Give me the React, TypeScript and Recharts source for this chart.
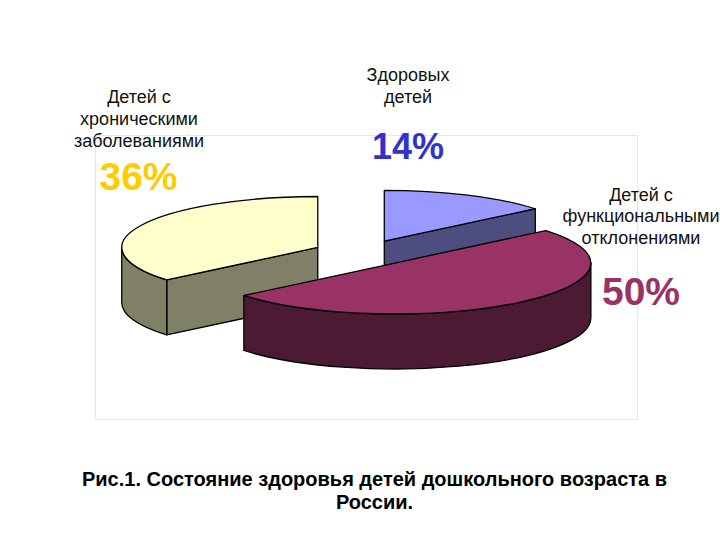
import { PieChart, Pie } from "recharts";

const categories = ["Детей с хроническими заболеваниями", "Здоровых детей", "Детей с функциональными отклонениями"];
const shares = [36, 14, 50];
const topColors = ["#FFFFCC", "#9999FF", "#993366"];
const sideColors = ["#808066", "#4D4D80", "#4D1A33"];
const percentColors = ["#FFCC00", "#3333CC", "#993366"];

const chartData = categories.map((name, i) => ({
  name,
  value: shares[i],
  fill: topColors[i],
  side: sideColors[i],
}));

const FONT = "'Liberation Sans', Arial, sans-serif";
const TILT = 0.26; // vertical squash of the disc
const DEPTH = 55; // wall height
const EXPLODE = 50; // how far slices are pulled from the center

const rad = (deg: number) => (deg * Math.PI) / 180;

// draws one exploded slice as a tilted disc wedge
const Slice3D = (props: any) => {
  const { cx, cy, outerRadius: r, startAngle, endAngle, midAngle, fill } = props;
  const side = props.side ?? props.payload?.side;
  const hi = Math.max(startAngle, endAngle);
  const lo = Math.min(startAngle, endAngle);
  const ry = r * TILT;
  const mid = midAngle ?? (hi + lo) / 2;
  const ox = cx + EXPLODE * Math.cos(rad(mid));
  const oy = cy - EXPLODE * TILT * Math.sin(rad(mid));
  const pt = (a: number, dy = 0) => [ox + r * Math.cos(rad(a)), oy - ry * Math.sin(rad(a)) + dy];
  const arc = (a: number, b: number, dy = 0) => {
    const [x, y] = pt(b, dy);
    const large = Math.abs(a - b) > 180 ? 1 : 0;
    return `A ${r} ${ry} 0 ${large} ${b < a ? 1 : 0} ${x} ${y}`;
  };

  const [hx, hy] = pt(hi);
  const [lx, ly] = pt(lo);
  const faces: string[] = [];

  // cut faces, only those turned towards the viewer
  [
    { x: hx, y: hy, normal: hi + 90 },
    { x: lx, y: ly, normal: lo - 90 },
  ].forEach((f) => {
    if (Math.sin(rad(f.normal)) < -0.01) {
      faces.push(
        `M ${ox} ${oy} L ${f.x} ${f.y} L ${f.x} ${f.y + DEPTH} L ${ox} ${oy + DEPTH} Z`
      );
    }
  });

  // outer wall on the front half of the disc
  [
    [-180, 0],
    [180, 360],
  ].forEach(([a, b]) => {
    const wallHi = Math.min(hi, b);
    const wallLo = Math.max(lo, a);
    if (wallHi > wallLo) {
      const [x1, y1] = pt(wallHi);
      const [x2, y2] = pt(wallLo, DEPTH);
      faces.push(
        `M ${x1} ${y1} ${arc(wallHi, wallLo)} L ${x2} ${y2} ${arc(wallLo, wallHi, DEPTH)} Z`
      );
    }
  });

  const top = `M ${ox} ${oy} L ${hx} ${hy} ${arc(hi, lo)} Z`;

  return (
    <g stroke="#000" strokeWidth={1.3} strokeLinejoin="round">
      {faces.map((d, i) => (
        <path key={i} d={d} fill={side} />
      ))}
      <path d={top} fill={fill} />
    </g>
  );
};

const labelStyle = { fontFamily: FONT, fontSize: 18, fill: "#111" };
const percentStyle = { fontFamily: FONT, fontSize: 39, fontWeight: 700 };
const titleStyle = { fontFamily: FONT, fontSize: 20, fontWeight: 700, fill: "#000" };

export default function App() {
  return (
    <div style={{ position: "absolute", left: 0, top: 0, width: 720, height: 540, background: "#fff" }}>
      <PieChart width={720} height={540} margin={{ top: 0, right: 0, bottom: 0, left: 0 }}>
        <rect x={95.5} y={135.5} width={542} height={284} fill="#fff" stroke="#e6e6e6" strokeWidth={1} />
        <Pie
          data={chartData}
          dataKey="value"
          nameKey="name"
          cx={363}
          cy={253}
          outerRadius={196}
          startAngle={219.6}
          endAngle={-140.4}
          paddingAngle={0}
          stroke="#000"
          shape={Slice3D}
          labelLine={false}
          isAnimationActive={false}
        />

        <g textAnchor="middle" style={labelStyle}>
          <text x={139} y={103}>Детей с</text>
          <text x={139} y={125}>хроническими</text>
          <text x={139} y={147}>заболеваниями</text>
          <text x={408} y={81}>Здоровых</text>
          <text x={408} y={103}>детей</text>
          <text x={641} y={201}>Детей с</text>
          <text x={641} y={222}>функциональными</text>
          <text x={641} y={244}>отклонениями</text>
        </g>

        <g textAnchor="middle" style={percentStyle}>
          <text x={138.5} y={190} fill={percentColors[0]}>{shares[0]}%</text>
          <text x={408} y={159} fill={percentColors[1]} fontSize={36} style={{ fontSize: 36 }}>{shares[1]}%</text>
          <text x={641} y={305} fill={percentColors[2]}>{shares[2]}%</text>
        </g>

        <g textAnchor="middle" style={titleStyle}>
          <text x={374.5} y={485.5}>Рис.1. Состояние здоровья детей дошкольного возраста в</text>
          <text x={374.5} y={509}>России.</text>
        </g>
      </PieChart>
    </div>
  );
}
